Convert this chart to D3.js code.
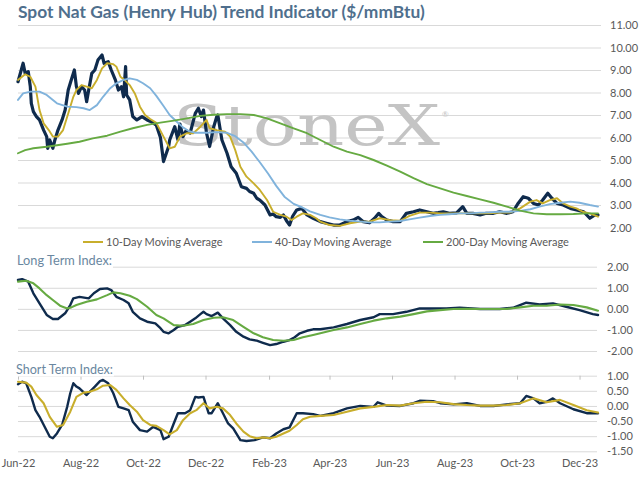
<!DOCTYPE html>
<html>
<head>
<meta charset="utf-8">
<script src="https://cdn.jsdelivr.net/npm/d3@7"></script>
<style>
  body { margin: 0; background: #fff; }
  svg { display: block; }
  text { font-family: Lato, "Open Sans", sans-serif; }
</style>
</head>
<body>
<div id="chart"></div>
<script>
// days after 1 Jun 2022, value ($/mmBtu)
var spot = [[0,8.48],[5,9.30],[7,8.85],[10,8.93],[12,8.26],[13,7.52],[15,7.15],[18,6.93],[21,6.78],[25,6.33],[28,6.04],[29,5.52],[31,5.89],[34,5.52],[36,5.89],[39,6.33],[43,6.78],[46,7.22],[49,8.11],[51,8.41],[55,9.0],[57,8.26],[59,7.96],[62,8.26],[65,8.11],[67,7.59],[69,8.11],[72,8.85],[75,9.0],[78,9.44],[82,9.67],[84,9.30],[88,9.37],[91,9.0],[95,8.56],[98,8.11],[101,8.26],[103,7.81],[105,9.15],[106,7.89],[109,7.67],[112,6.93],[116,6.78],[121,6.93],[126,6.78],[130,6.70],[135,6.55],[139,6.0],[142,4.93],[147,5.6],[148,5.89],[153,6.48],[156,5.9],[158,6.6],[161,6.04],[164,6.3],[168,6.2],[173,7.07],[176,7.30],[179,6.93],[181,7.22],[184,6.19],[187,5.6],[191,6.48],[194,6.93],[195,7.0],[199,5.89],[204,5.3],[208,4.7],[213,4.41],[218,3.81],[223,3.74],[226,3.6],[230,3.52],[233,3.3],[236,3.22],[241,3.0],[246,2.56],[249,2.6],[252,2.48],[256,2.45],[259,2.56],[262,2.3],[265,2.11],[268,2.5],[272,2.78],[277,2.85],[282,2.56],[288,2.41],[295,2.26],[301,2.19],[308,2.11],[314,2.11],[321,2.26],[327,2.33],[332,2.45],[337,2.26],[343,2.21],[348,2.41],[352,2.63],[355,2.48],[360,2.33],[366,2.26],[373,2.26],[379,2.63],[386,2.70],[392,2.78],[399,2.70],[405,2.63],[410,2.66],[415,2.70],[421,2.63],[428,2.65],[434,2.93],[438,2.63],[444,2.63],[451,2.56],[457,2.63],[464,2.63],[470,2.70],[477,2.63],[483,2.70],[488,3.07],[493,3.37],[498,3.30],[503,3.07],[508,3.0],[512,3.22],[517,3.52],[521,3.30],[526,3.07],[532,3.0],[539,2.85],[545,2.78],[552,2.70],[558,2.41],[563,2.56],[566,2.56]];

var ma10 = [[0,8.56],[7,8.81],[12,8.70],[17,8.26],[21,7.22],[25,6.63],[30,6.33],[34,6.04],[39,6.04],[44,6.33],[49,7.07],[54,7.81],[57,8.11],[62,8.33],[67,8.26],[72,8.19],[77,8.56],[82,9.07],[87,9.30],[93,9.26],[96,9.15],[100,8.70],[104,8.56],[109,8.33],[114,7.96],[119,7.37],[124,7.0],[129,6.82],[135,6.65],[142,6.04],[148,5.52],[153,5.59],[158,6.04],[165,6.19],[171,6.19],[178,6.48],[184,6.78],[187,6.41],[194,6.33],[202,6.26],[207,6.04],[212,5.44],[217,4.70],[223,4.26],[230,3.96],[236,3.67],[243,3.22],[249,2.70],[256,2.56],[262,2.48],[267,2.33],[272,2.48],[278,2.63],[285,2.56],[291,2.41],[295,2.26],[304,2.11],[314,2.07],[324,2.19],[334,2.26],[343,2.26],[353,2.41],[363,2.33],[373,2.30],[382,2.52],[392,2.66],[402,2.66],[412,2.63],[421,2.63],[431,2.63],[441,2.63],[451,2.63],[460,2.63],[470,2.66],[480,2.66],[490,2.85],[500,3.15],[506,3.22],[512,3.07],[519,3.22],[526,3.30],[532,3.07],[539,2.93],[545,2.85],[551,2.70],[558,2.63],[566,2.48]];

var ma40 = [[0,7.67],[5,7.96],[12,8.04],[21,8.04],[28,7.89],[38,7.52],[48,7.37],[57,7.35],[64,7.30],[70,7.22],[77,7.44],[83,7.81],[90,8.19],[96,8.41],[103,8.56],[109,8.63],[116,8.56],[122,8.41],[129,8.19],[135,7.85],[142,7.4],[148,7.0],[155,6.7],[161,6.45],[167,6.28],[173,6.21],[184,6.21],[194,6.24],[204,6.21],[212,6.06],[220,5.78],[228,5.37],[236,4.9],[244,4.4],[252,3.85],[260,3.37],[269,3.05],[277,2.9],[285,2.72],[295,2.56],[304,2.45],[314,2.36],[324,2.30],[334,2.26],[343,2.23],[353,2.23],[363,2.26],[373,2.29],[382,2.36],[392,2.44],[402,2.51],[412,2.56],[421,2.59],[431,2.63],[441,2.63],[451,2.66],[460,2.67],[470,2.70],[480,2.70],[490,2.74],[500,2.81],[509,2.93],[519,3.04],[529,3.10],[539,3.15],[548,3.10],[558,3.0],[566,2.93]];

var ma200 = [[0,5.30],[7,5.44],[15,5.52],[28,5.59],[48,5.72],[60,5.81],[73,5.96],[87,6.08],[100,6.26],[112,6.41],[126,6.56],[139,6.66],[152,6.75],[165,6.85],[178,6.96],[191,7.01],[204,7.04],[217,7.04],[230,7.0],[243,6.85],[256,6.63],[269,6.41],[282,6.19],[295,5.89],[308,5.59],[321,5.37],[334,5.22],[347,5.0],[360,4.75],[373,4.48],[386,4.19],[399,3.93],[412,3.74],[425,3.55],[438,3.40],[451,3.25],[464,3.10],[477,2.93],[490,2.75],[503,2.63],[516,2.59],[529,2.59],[542,2.60],[555,2.63],[566,2.63]];

var longIdx = [[0,1.37],[4,1.41],[10,1.29],[15,0.74],[21,0.26],[28,-0.29],[34,-0.48],[39,-0.48],[46,-0.21],[51,0.18],[54,0.50],[60,0.57],[69,0.5],[74,0.74],[80,0.94],[87,0.97],[91,0.89],[96,0.57],[103,0.42],[108,0.26],[112,-0.14],[119,-0.45],[126,-0.61],[134,-0.69],[139,-0.92],[142,-1.09],[147,-1.16],[152,-1.0],[156,-0.85],[163,-0.77],[168,-0.61],[173,-0.45],[178,-0.25],[181,-0.14],[184,-0.25],[189,-0.34],[195,-0.18],[200,-0.45],[207,-0.77],[213,-1.09],[220,-1.32],[226,-1.45],[233,-1.51],[239,-1.61],[246,-1.72],[252,-1.67],[259,-1.56],[265,-1.48],[270,-1.35],[275,-1.16],[282,-1.04],[288,-0.97],[295,-0.97],[308,-0.88],[321,-0.72],[334,-0.53],[347,-0.40],[353,-0.25],[366,-0.25],[379,-0.14],[392,0.02],[405,0.02],[418,0.02],[431,0.05],[451,-0.01],[470,-0.01],[483,0.05],[496,0.29],[509,0.21],[522,0.26],[535,0.10],[548,-0.06],[561,-0.25],[566,-0.29]];

var longAvg = [[0,1.29],[8,1.33],[15,1.21],[21,0.97],[28,0.65],[34,0.42],[41,0.15],[48,0.02],[52,0.07],[57,0.18],[67,0.34],[77,0.45],[87,0.65],[93,0.78],[100,0.74],[109,0.62],[116,0.46],[126,0.10],[135,-0.29],[142,-0.45],[152,-0.77],[161,-0.80],[171,-0.72],[181,-0.53],[191,-0.42],[200,-0.40],[210,-0.53],[220,-0.85],[230,-1.16],[239,-1.35],[249,-1.48],[259,-1.51],[269,-1.48],[278,-1.35],[288,-1.24],[295,-1.16],[308,-1.0],[321,-0.88],[334,-0.72],[347,-0.56],[360,-0.45],[373,-0.37],[386,-0.25],[399,-0.12],[412,-0.06],[425,-0.01],[438,0.0],[451,-0.01],[464,-0.01],[477,0.0],[490,0.07],[503,0.15],[516,0.15],[529,0.21],[542,0.18],[555,0.07],[566,-0.09]];

var shortIdx = [[0,0.72],[4,0.80],[8,0.75],[13,0.30],[17,-0.14],[21,-0.36],[26,-0.69],[31,-1.02],[34,-1.07],[38,-0.91],[43,-0.63],[48,-0.03],[51,0.42],[54,0.75],[57,0.64],[60,0.58],[67,0.36],[70,0.47],[75,0.64],[80,0.82],[83,0.86],[88,0.75],[93,0.42],[98,-0.03],[103,-0.08],[108,-0.14],[112,-0.52],[119,-0.80],[126,-0.85],[132,-0.69],[139,-0.80],[142,-1.10],[147,-1.02],[152,-0.58],[156,-0.24],[163,-0.24],[168,-0.14],[173,0.30],[176,0.28],[181,0.30],[186,-0.24],[189,-0.24],[195,0.09],[200,-0.24],[205,-0.58],[210,-0.74],[217,-1.13],[223,-1.16],[231,-1.13],[239,-1.04],[246,-1.07],[252,-0.91],[259,-0.77],[265,-0.71],[272,-0.24],[278,-0.24],[288,-0.27],[295,-0.33],[308,-0.24],[321,-0.08],[334,0.0],[347,-0.03],[351,0.12],[360,0.01],[373,0.0],[386,0.09],[392,0.17],[405,0.16],[412,0.09],[425,0.05],[438,0.09],[451,0.0],[464,0.0],[477,0.05],[490,0.09],[496,0.33],[503,0.25],[509,0.09],[516,0.14],[522,0.25],[529,0.09],[542,-0.11],[555,-0.24],[566,-0.24]];

var shortAvg = [[0,0.80],[8,0.77],[13,0.64],[18,0.36],[25,0.09],[31,-0.36],[38,-0.69],[44,-0.63],[51,-0.19],[57,0.30],[64,0.44],[70,0.47],[77,0.55],[83,0.67],[90,0.69],[96,0.53],[103,0.25],[109,0.03],[116,-0.19],[122,-0.47],[129,-0.63],[135,-0.66],[142,-0.80],[148,-0.94],[155,-0.80],[161,-0.47],[168,-0.24],[174,-0.14],[181,0.09],[187,-0.08],[194,-0.03],[200,-0.08],[207,-0.30],[213,-0.58],[220,-0.85],[226,-1.0],[233,-1.07],[239,-1.04],[246,-1.07],[252,-1.02],[259,-0.91],[265,-0.82],[272,-0.63],[278,-0.44],[285,-0.36],[295,-0.33],[308,-0.30],[321,-0.19],[334,-0.08],[347,-0.03],[360,0.03],[373,0.01],[386,0.09],[399,0.14],[412,0.12],[425,0.06],[438,0.03],[451,0.01],[464,0.01],[477,0.03],[490,0.09],[503,0.25],[516,0.12],[529,0.20],[542,0.03],[555,-0.14],[566,-0.22]];

var priceTicks = [2,3,4,5,6,7,8,9,10,11];
var longTicks = [-2,-1,0,1,2];
var shortTicks = [-1.5,-1,-0.5,0,0.5,1];
var monthTicks = ["2022-06-01","2022-08-01","2022-10-01","2022-12-01","2023-02-01","2023-04-01","2023-06-01","2023-08-01","2023-10-01","2023-12-01"];
var monthLabels = ["Jun-22","Aug-22","Oct-22","Dec-22","Feb-23","Apr-23","Jun-23","Aug-23","Oct-23","Dec-23"];
var legendNames = ["10-Day Moving Average","40-Day Moving Average","200-Day Moving Average"];

var navy = "#0f2b4d", gold = "#c8ae2c", blue = "#80b3dc", green = "#66aa42";
var grid = "#d9d9d9", labelGrey = "#595959";

var width = 642, height = 479;
var svg = d3.select("#chart").append("svg")
    .attr("width", width)
    .attr("height", height);

var start = new Date(2022, 5, 1);
function day(d) { return d3.timeDay.offset(start, d); }

var x = d3.scaleTime()
  .domain([start, new Date(2023, 11, 19)])
  .range([18, 598]);

var yPrice = d3.scaleLinear().domain([2, 11]).range([227.5, 25]);
var yLong = d3.scaleLinear().domain([-2, 2]).range([351, 266.7]);
var yShort = d3.scaleLinear().domain([-1.5, 1]).range([451.3, 375.7]);

function fmt(v) { return v.toFixed(2); }

function gridAxis(y, ticks, size, pad) {
  var g = svg.append("g")
    .attr("transform", "translate(18,0)")
    .call(d3.axisRight(y).tickValues(ticks).tickSize(size).tickPadding(pad).tickFormat(fmt));
  g.select(".domain").remove();
  g.selectAll("line").attr("stroke", grid);
  g.selectAll("text")
    .attr("fill", labelGrey)
    .style("font-size", "11px")
    .style("font-family", "Lato, sans-serif");
  return g;
}

gridAxis(yPrice, priceTicks, 583, 9);
gridAxis(yLong, longTicks, 579, 10);
gridAxis(yShort, shortTicks, 579, 10);

// watermark
svg.append("text")
  .attr("x", 173).attr("y", 145)
  .attr("textLength", 267)
  .attr("lengthAdjust", "spacingAndGlyphs")
  .style("font-family", "'DejaVu Serif', serif")
  .style("font-size", "56px")
  .attr("fill", "#c4c4c4")
  .text("StoneX");
svg.append("text")
  .attr("x", 442).attr("y", 117)
  .style("font-size", "8px")
  .attr("fill", "#c4c4c4")
  .text("\u00ae");

// x axis: ticks on the short panel top line, labels at the bottom
var xAxis = svg.append("g")
  .attr("transform", "translate(0,375.7)")
  .call(d3.axisBottom(x)
    .tickValues(monthTicks.map(function(s) { return d3.timeParse("%Y-%m-%d")(s); }))
    .tickSize(4)
    .tickFormat(function(d, i) { return monthLabels[i]; }));
xAxis.select(".domain").remove();
xAxis.selectAll("line").attr("stroke", "#bfbfbf");
xAxis.selectAll("text")
  .attr("y", 84)
  .attr("fill", labelGrey)
  .style("font-size", "11px")
  .style("font-family", "Lato, sans-serif");

function drawLine(data, y, color, w) {
  var line = d3.line()
    .x(function(d) { return x(day(d[0])); })
    .y(function(d) { return y(d[1]); });
  svg.append("path")
    .datum(data)
    .attr("d", line)
    .attr("fill", "none")
    .attr("stroke", color)
    .attr("stroke-width", w)
    .attr("stroke-linejoin", "round")
    .attr("stroke-linecap", "round");
}

drawLine(spot, yPrice, navy, 3.2);
drawLine(ma10, yPrice, gold, 1.9);
drawLine(ma40, yPrice, blue, 1.9);
drawLine(ma200, yPrice, green, 1.9);

drawLine(longIdx, yLong, navy, 2.4);
drawLine(longAvg, yLong, green, 2.1);

drawLine(shortIdx, yShort, navy, 2.4);
drawLine(shortAvg, yShort, gold, 2.1);

// legend
var legendX = [83, 252, 423];
var legendColors = [gold, blue, green];
legendNames.forEach(function(name, i) {
  svg.append("line")
    .attr("x1", legendX[i]).attr("x2", legendX[i] + 20)
    .attr("y1", 242).attr("y2", 242)
    .attr("stroke", legendColors[i])
    .attr("stroke-width", 2);
  svg.append("text")
    .attr("x", legendX[i] + 23).attr("y", 242)
    .attr("dy", "0.35em")
    .attr("fill", labelGrey)
    .style("font-size", "11px")
    .text(name);
});

// fit a text to a target width by adjusting its size
function fitText(t, target) {
  var w = t.node().getComputedTextLength();
  var fs = parseFloat(t.style("font-size"));
  t.style("font-size", (fs * target / w).toFixed(2) + "px");
}

var title = svg.append("text")
  .attr("x", 18).attr("y", 18)
  .attr("fill", "#4f6f8d")
  .style("font-size", "17px")
  .style("font-weight", "bold")
  .text("Spot Nat Gas (Henry Hub) Trend Indicator ($/mmBtu)");
fitText(title, 407);

function panelLabel(txt, px, py, target) {
  var g = svg.append("g");
  var bg = g.append("rect").attr("fill", "#fff");
  var t = g.append("text")
    .attr("x", px).attr("y", py)
    .attr("fill", "#6a87a0")
    .style("font-size", "13px")
    .text(txt);
  fitText(t, target);
  var b = t.node().getBBox();
  bg.attr("x", b.x).attr("y", b.y).attr("width", b.width + 1).attr("height", b.height);
}
panelLabel("Long Term Index:", 17, 265, 95);
panelLabel("Short Term Index:", 16, 373.5, 97);
</script>
</body>
</html>
